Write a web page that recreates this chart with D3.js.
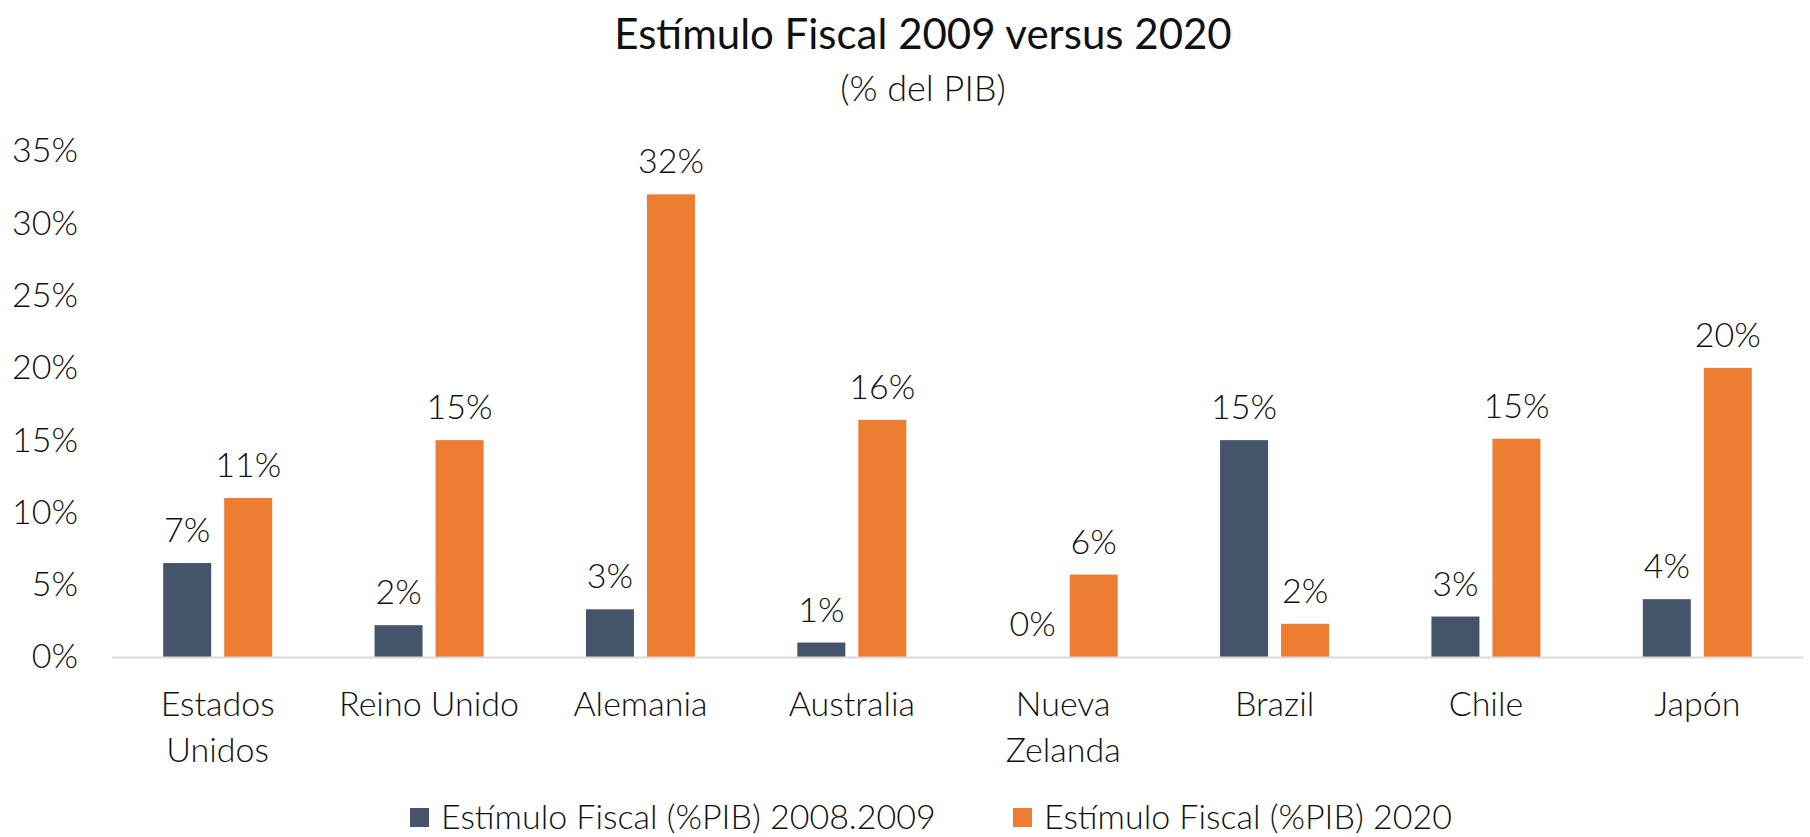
<!DOCTYPE html>
<html>
<head>
<meta charset="utf-8">
<script src="https://cdn.jsdelivr.net/npm/d3@7"></script>
<style>
  body { margin: 0; background: #fff; }
  text { font-family: Lato, "Open Sans", sans-serif; fill: #111; }
</style>
</head>
<body>
<div class="chart"></div>
<script>
// data
var paises = ["Estados Unidos", "Reino Unido", "Alemania", "Australia", "Nueva Zelanda", "Brazil", "Chile", "Japón"];
var estimulo2009 = [6.5, 2.2, 3.3, 1.0, 0.0, 15.0, 2.8, 4.0];
var estimulo2020 = [11.0, 15.0, 32.0, 16.4, 5.7, 2.3, 15.1, 20.0];
var etiquetas2009 = ["7%", "2%", "3%", "1%", "0%", "15%", "3%", "4%"];
var etiquetas2020 = ["11%", "15%", "32%", "16%", "6%", "2%", "15%", "20%"];
var yTicks = [0, 5, 10, 15, 20, 25, 30, 35];
var series = ["Estímulo Fiscal (%PIB) 2008.2009", "Estímulo Fiscal (%PIB) 2020"];
var colores = ["#44546A", "#ED7D31"];

var svgWidth = 1810;
var svgHeight = 837;
var margin = { top: 151, right: 7, bottom: 180, left: 112 };
var width = svgWidth - margin.left - margin.right;
var height = svgHeight - margin.top - margin.bottom;

var svg = d3.select(".chart")
    .append("svg")
    .attr("width", svgWidth)
    .attr("height", svgHeight);

var chart = svg.append("g")
    .attr("transform", "translate(" + margin.left + "," + margin.top + ")");

// scales
var xScale = d3.scaleBand().domain(paises).range([0, width]);
var yScale = d3.scaleLinear().domain([0, 35]).range([height, 0]);

var barW = 48, gap = 13;

// y axis labels (no line)
var leftAxis = d3.axisLeft(yScale)
    .tickValues(yTicks)
    .tickSize(0)
    .tickPadding(34)
    .tickFormat(function(d) { return d + "%"; });

chart.append("g")
    .call(leftAxis)
    .call(function(g) { g.select(".domain").remove(); })
    .selectAll("text")
    .attr("font-size", "34px")
    .attr("font-weight", 300)
    .attr("font-family", "Lato, sans-serif")
    .attr("fill", "#111");

// bars
var rows = paises.map(function(p, i) {
    return { pais: p, v: [estimulo2009[i], estimulo2020[i]], l: [etiquetas2009[i], etiquetas2020[i]] };
});

var grupos = chart.selectAll(".grupo")
    .data(rows)
    .enter()
    .append("g")
    .attr("class", "grupo")
    .attr("transform", function(d) {
        return "translate(" + (xScale(d.pais) + xScale.bandwidth() / 2) + ",0)";
    });

[0, 1].forEach(function(s) {
    var off = s === 0 ? -(barW + gap / 2) : gap / 2;
    grupos.append("rect")
        .attr("x", off)
        .attr("width", barW)
        .attr("y", function(d) { return yScale(d.v[s]); })
        .attr("height", function(d) { return height - yScale(d.v[s]); })
        .attr("fill", colores[s]);

    grupos.append("text")
        .attr("x", off + barW / 2)
        .attr("y", function(d) { return yScale(d.v[s]) - 21; })
        .attr("text-anchor", "middle")
        .attr("font-size", "34px")
        .attr("font-weight", 300)
        .text(function(d) { return d.l[s]; });
});

// x axis line
chart.append("line")
    .attr("x1", 0)
    .attr("x2", width)
    .attr("y1", height + 0.5)
    .attr("y2", height + 0.5)
    .attr("stroke", "#D9D9D9")
    .attr("stroke-width", 2);

// category labels, wrapped
chart.selectAll(".cat")
    .data(paises)
    .enter()
    .append("text")
    .attr("class", "cat")
    .attr("text-anchor", "middle")
    .attr("font-size", "34px")
    .attr("font-weight", 300)
    .each(function(d) {
        var t = d3.select(this);
        var x = xScale(d) + xScale.bandwidth() / 2;
        var lines = (d === "Estados Unidos" || d === "Nueva Zelanda") ? d.split(" ") : [d];
        lines.forEach(function(ln, k) {
            t.append("tspan").attr("x", x).attr("y", height + 59 + k * 46).text(ln);
        });
    });

// title
svg.append("text")
    .attr("x", 923)
    .attr("y", 49)
    .attr("text-anchor", "middle")
    .attr("font-size", "42px")
    .attr("font-weight", 400)
    .text("Estímulo Fiscal 2009 versus 2020");

svg.append("text")
    .attr("x", 923)
    .attr("y", 101)
    .attr("text-anchor", "middle")
    .attr("font-size", "36px")
    .attr("font-weight", 300)
    .text("(% del PIB)");

// legend
var legX = [410, 1013];
var legend = svg.selectAll(".leg")
    .data(series)
    .enter()
    .append("g")
    .attr("class", "leg")
    .attr("transform", function(d, i) { return "translate(" + legX[i] + ",808)"; });

legend.append("rect")
    .attr("width", 19)
    .attr("height", 19)
    .attr("fill", function(d, i) { return colores[i]; });

legend.append("text")
    .attr("x", 31)
    .attr("y", 21)
    .attr("font-size", "34px")
    .attr("font-weight", 300)
    .text(function(d) { return d; });
</script>
</body>
</html>
